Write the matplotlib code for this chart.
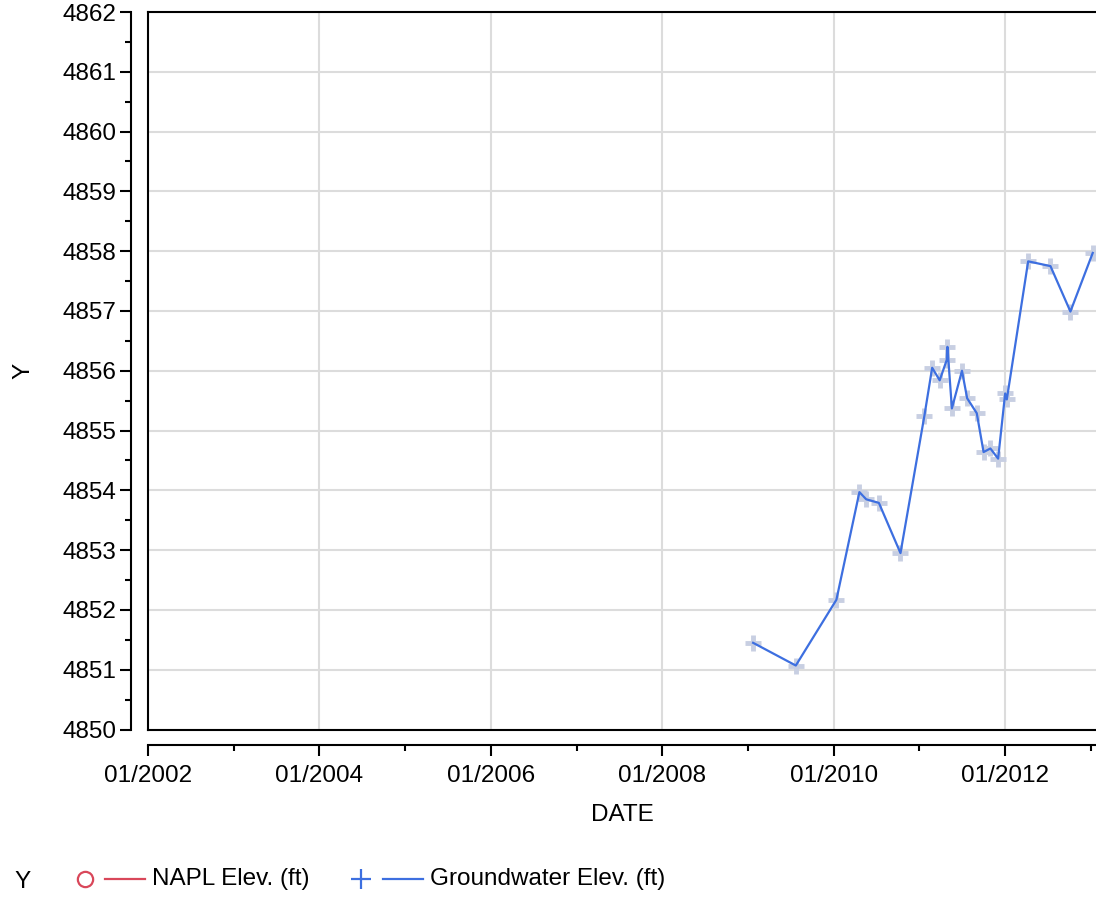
import numpy as np
import pandas as pd
import matplotlib
matplotlib.use("Agg")
import matplotlib.pyplot as plt
import matplotlib.dates as mdates
from matplotlib.lines import Line2D

plt.rcParams['font.family'] = ['Liberation Sans', 'DejaVu Sans']

# Groundwater elevation readings (ft) -- NAPL series has no data in this window
gw_dates = ['2009-01-22', '2009-07-23', '2010-01-12', '2010-04-20', '2010-05-19',
            '2010-07-12', '2010-10-12', '2011-01-22', '2011-02-24', '2011-03-28',
            '2011-04-27', '2011-04-30', '2011-05-19', '2011-07-01', '2011-07-23',
            '2011-09-02', '2011-10-01', '2011-10-30', '2011-12-02', '2012-01-01',
            '2012-01-08', '2012-04-08', '2012-07-12', '2012-10-05', '2013-01-08']
gw_elev = [4851.45, 4851.07, 4852.17, 4853.97, 4853.85,
           4853.79, 4852.95, 4855.25, 4856.05, 4855.84,
           4856.18, 4856.40, 4855.37, 4856.00, 4855.54,
           4855.29, 4854.64, 4854.70, 4854.53, 4855.62,
           4855.52, 4857.83, 4857.75, 4856.99, 4857.97]
napl_dates = []
napl_elev = []

y_ticks = np.arange(4850, 4863, 1)
x_start, x_end = '2002-01-01', '2013-01-22'

line_blue = '#3d6fe0'
marker_pale = '#c8cfe2'
napl_red = '#d9475a'
grid_grey = '#dcdcdc'
fs = 17.5

W, H = 1096, 897
fig = plt.figure(figsize=(W/100, H/100), dpi=100)
ax = fig.add_axes([148/W, (H-729.5)/H, 1 - 148/W, (729.5-12)/H])

d = pd.to_datetime(gw_dates)
ax.plot(d, gw_elev, linestyle='none', marker='+', markersize=11, mew=3.5,
        color=marker_pale, zorder=3, clip_on=False)
ax.plot(d, gw_elev, color=line_blue, lw=1.6, zorder=4)
if napl_dates:
    ax.plot(pd.to_datetime(napl_dates), napl_elev, marker='o', mfc='none',
            color=napl_red, lw=1.6)

ax.set_xlim(pd.Timestamp(x_start), pd.Timestamp(x_end))
ax.set_ylim(4850, 4862)
ax.set_yticks(y_ticks)
ax.yaxis.set_minor_locator(matplotlib.ticker.MultipleLocator(0.5))
ax.xaxis.set_major_locator(mdates.YearLocator(2))
ax.xaxis.set_minor_locator(mdates.YearLocator(1))
ax.xaxis.set_major_formatter(mdates.DateFormatter('%m/%Y'))

ax.grid(True, which='major', color=grid_grey, lw=1.5, zorder=0)
ax.set_axisbelow(True)

for s in ['top', 'right']:
    ax.spines[s].set_visible(False)
ax.spines['left'].set_position(('outward', 12.2))
ax.spines['bottom'].set_position(('outward', 11.5))
for s in ['left', 'bottom']:
    ax.spines[s].set_linewidth(1.5)

# inner frame of the plot area
for xs, ys in [([0, 0], [0, 1]), ([0, 1], [1, 1]), ([0, 1], [0, 0])]:
    ax.plot(xs, ys, transform=ax.transAxes, color='black', lw=1.5,
            clip_on=False, zorder=5)

ax.tick_params(which='major', length=8, width=1.5, labelsize=fs, pad=2.5,
               colors='black')
ax.tick_params(which='minor', length=4, width=1.5)
ax.tick_params(axis='x', which='major', pad=6)

ax.set_xlabel('DATE', fontsize=fs, labelpad=12)
ax.set_ylabel('Y', fontsize=fs, labelpad=20)

# legend row along the bottom
ly = (H - 879) / H
fig.text(14/W, (H - 882)/H, 'Y', fontsize=fs, va='center', ha='left')
fig.add_artist(Line2D([85/W], [ly], marker='o', markersize=11, mfc='none',
                      mec=napl_red, mew=1.6, linestyle='none'))
fig.add_artist(Line2D([105/W, 145/W], [ly, ly], color=napl_red, lw=1.6))
fig.text(152/W, ly, 'NAPL Elev. (ft)', fontsize=fs, va='center', ha='left')
fig.add_artist(Line2D([361/W], [ly], marker='+', markersize=14, mew=1.6,
                      color=line_blue, linestyle='none'))
fig.add_artist(Line2D([383/W, 423/W], [ly, ly], color=line_blue, lw=1.6))
fig.text(430/W, ly, 'Groundwater Elev. (ft)', fontsize=fs, va='center', ha='left')

fig.savefig('out.png', dpi=100)
